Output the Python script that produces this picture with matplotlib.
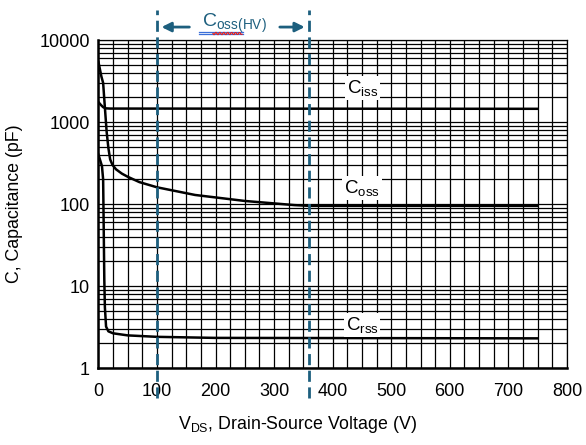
import numpy as np
import matplotlib
matplotlib.use('Agg')
import matplotlib.pyplot as plt
from matplotlib.ticker import MultipleLocator, LogLocator, NullFormatter

plt.rcParams['font.family'] = ['Liberation Sans', 'DejaVu Sans']
plt.rcParams['mathtext.fontset'] = 'custom'
plt.rcParams['mathtext.rm'] = 'Liberation Sans'
plt.rcParams['mathtext.it'] = 'Liberation Sans'

# values
ciss_v = [0, 4, 8, 12, 20, 750]
ciss_c = [1750, 1620, 1520, 1470, 1460, 1450]

coss_v = [0, 5, 8, 11, 14, 17, 20, 24, 30, 40, 50, 70, 100, 165, 250, 335, 360, 750]
coss_c = [5400, 3600, 3000, 1500, 760, 480, 350, 300, 265, 235, 215, 185, 160, 129, 109, 97, 95, 95]

crss_v = [0, 6, 8, 9, 10, 11, 13, 17, 25, 50, 100, 200, 750]
crss_c = [400, 290, 200, 50, 12, 5.5, 3.2, 2.8, 2.65, 2.5, 2.4, 2.33, 2.3]

hv_window = [100, 360]   # Coss(HV) limits
blue = '#1d5f7e'

fig = plt.figure(figsize=(5.86, 4.45), dpi=100)
ax = fig.add_axes([0.168, 0.173, 0.7994, 0.737])

ax.set_yscale('log')
ax.set_xlim(0, 800)
ax.set_ylim(1, 10000)

ax.xaxis.set_major_locator(MultipleLocator(100))
ax.xaxis.set_minor_locator(MultipleLocator(25))
ax.yaxis.set_minor_locator(LogLocator(base=10, subs=np.arange(2, 10)))
ax.yaxis.set_minor_formatter(NullFormatter())
ax.set_yticks([1, 10, 100, 1000, 10000])
ax.set_yticklabels(['1', '10', '100', '1000', '10000'])

ax.grid(which='both', color='black', lw=0.9)
ax.set_axisbelow(True)
ax.tick_params(which='both', length=0, labelsize=13)
ax.tick_params(axis='x', pad=11)
ax.tick_params(axis='y', pad=6)
for s in ['left', 'bottom']:
    ax.spines[s].set_linewidth(1.8)
for s in ['top', 'right']:
    ax.spines[s].set_linewidth(0.9)

ax.plot(ciss_v, ciss_c, color='black', lw=1.8)
ax.plot(coss_v, coss_c, color='black', lw=1.8)
ax.plot(crss_v, crss_c, color='black', lw=1.8)

box = dict(facecolor='white', edgecolor='none', pad=1.5)
ax.text(451, 2600, r'C$_{\rm iss}$', fontsize=13.5, ha='center', va='center', bbox=box)
ax.text(450, 157, r'C$_{\rm oss}$', fontsize=13.5, ha='center', va='center', bbox=box)
ax.text(450, 3.34, r'C$_{\rm rss}$', fontsize=13.5, ha='center', va='center', bbox=box)

ax.set_xlabel(r'V$_{\rm DS}$, Drain-Source Voltage (V)', fontsize=12.8)
ax.xaxis.set_label_coords(0.424, -0.14)
ax.set_ylabel('C, Capacitance (pF)', fontsize=12.8)
ax.yaxis.set_label_coords(-0.16, 0.5)

# Coss(HV) window markers
for v in hv_window:
    ax.axvline(v, ymin=-0.091, ymax=1.091, color=blue, lw=2, ls=(0, (4, 2)), clip_on=False, zorder=5)

y_ann = 1.0396
ax.annotate('', xy=(hv_window[0] + 3, y_ann), xytext=(160, y_ann),
            xycoords=('data', 'axes fraction'), textcoords=('data', 'axes fraction'),
            arrowprops=dict(arrowstyle='-|>', color=blue, lw=2, mutation_scale=14))
ax.annotate('', xy=(hv_window[1] - 3, y_ann), xytext=(305, y_ann),
            xycoords=('data', 'axes fraction'), textcoords=('data', 'axes fraction'),
            arrowprops=dict(arrowstyle='-|>', color=blue, lw=2, mutation_scale=14))
ax.text(232, 1.05, r'C$_{\rm oss(HV)}$', color=blue, fontsize=14, ha='center', va='center',
        transform=ax.get_xaxis_transform())

# word-processor underlines under the label
fig.lines.append(plt.Line2D([199 / 586, 243 / 586], [1 - 32 / 445, 1 - 32 / 445], color='#3a6fd8', lw=0.9, transform=fig.transFigure))
fig.lines.append(plt.Line2D([199 / 586, 243 / 586], [1 - 34 / 445, 1 - 34 / 445], color='#3a6fd8', lw=0.9, transform=fig.transFigure))
wx = np.linspace(213, 242, 30)
wy = 33.5 + 1.2 * np.sin((wx - 213) * 1.6)
fig.lines.append(plt.Line2D(wx / 586, 1 - wy / 445, color='#e02020', lw=0.9, transform=fig.transFigure))

fig.savefig('out.png', dpi=100)
